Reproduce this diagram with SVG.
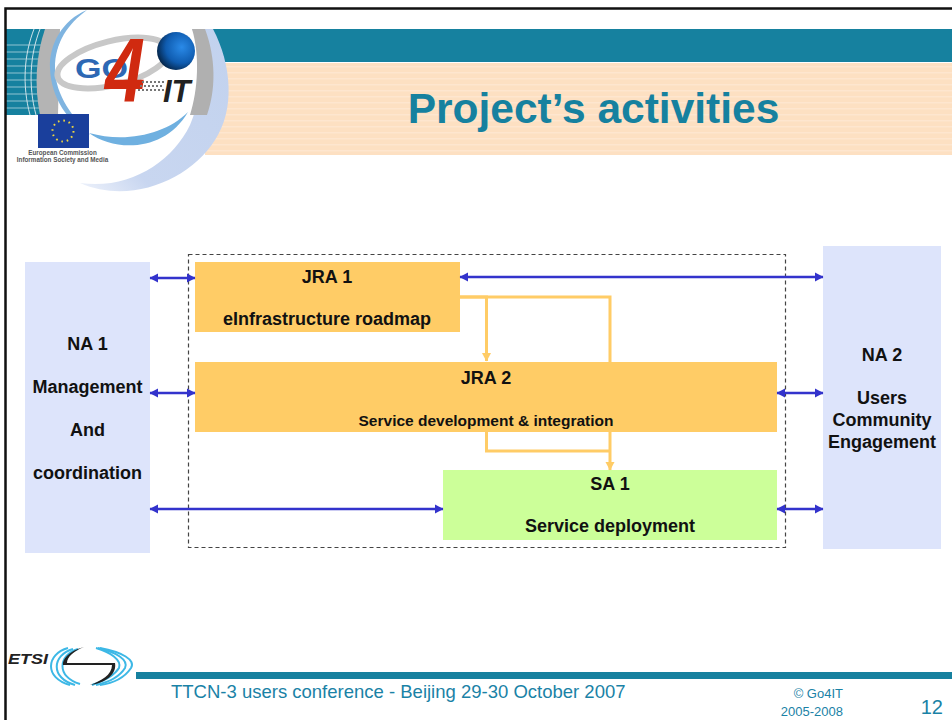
<svg xmlns="http://www.w3.org/2000/svg" width="952" height="720" viewBox="0 0 952 720">
<defs>
<radialGradient id="globe" cx="0.65" cy="0.4" r="0.7"><stop offset="0" stop-color="#2a8ae8"/><stop offset="0.6" stop-color="#0f5cb0"/><stop offset="1" stop-color="#04203f"/></radialGradient>
<linearGradient id="cres" x1="1" y1="0" x2="0" y2="1"><stop offset="0" stop-color="#c2d2ee"/><stop offset="0.75" stop-color="#c8d6f0"/><stop offset="1" stop-color="#eef2fb"/></linearGradient>
<pattern id="stripes" width="10" height="6" patternUnits="userSpaceOnUse" y="63"><rect width="10" height="6" fill="#fde0c2"/><rect y="3" width="10" height="1.500" fill="#fee6cf"/></pattern>
<marker id="blue" markerWidth="9" markerHeight="10" refX="8" refY="5" orient="auto-start-reverse" markerUnits="userSpaceOnUse"><path d="M0 0.500L8.500 5L0 9.500Z" fill="#3333cc"/></marker>
<marker id="amber" markerWidth="10" markerHeight="10" refX="8" refY="5" orient="auto" markerUnits="userSpaceOnUse"><path d="M0 0.500L8.500 5L0 9.500Z" fill="#ffcc66"/></marker>
</defs>
<style>
text{font-family:"Liberation Sans",Arial,sans-serif}
.lb{font-size:18px;font-weight:bold;fill:#111;text-anchor:middle}
.ft{fill:#1a82a6}
.fl{fill:none;stroke:#3333cc;stroke-width:2.6;marker-start:url(#blue);marker-end:url(#blue)}
.am{fill:none;stroke:#ffcc66;stroke-width:3}
</style>
<rect width="952" height="720" fill="#fff"/>
<g id="header">
<rect x="205" y="29" width="747" height="33" fill="#16819f"/>
<rect x="205" y="63" width="747" height="92" fill="url(#stripes)"/>
<rect x="6" y="29" width="42" height="86" fill="#16819f"/>
<path d="M6 45h36M6 52h36M6 59h36M6 66h36M6 73h36M6 80h36M6 87h36M6 94h36M6 101h36M6 108h36" stroke="#8fc3d2" stroke-width="1.2"/>
<path d="M34 29C24 55 22 85 30 115M40 29C30 55 28 85 36 115" fill="none" stroke="#cfe3ea" stroke-width="1"/>
<path d="M45 29L60 29L58 115L40 115C34 85 36 55 45 29Z" fill="#b4b4b4"/>
<circle cx="127" cy="73" r="74" fill="#fff"/>
<rect x="6" y="115" width="60" height="50" fill="#fff"/>
<path d="M87 10C62 20 49 45 50 68C51 98 68 122 90 135C74 118 55 96 55 68C55 42 68 24 87 10Z" fill="#7fb4e0"/>
<path d="M192 29L213 29C232 65 235 110 215 140C190 180 130 205 80 183C130 190 172 162 190 125C205 90 205 55 192 29Z" fill="url(#cres)"/>
<path d="M192 29L205 29C216 58 216 90 207 115L190 115C198 90 200 55 192 29Z" fill="#b0b0b0"/>
<path d="M89 133C115 152 165 152 188 112C165 135 125 143 89 133Z" fill="#6fb0e0"/>
<ellipse cx="113" cy="63" rx="57" ry="22" transform="rotate(-14 113 63)" fill="none" stroke="#c8c8c8" stroke-width="6"/>
<text x="75" y="78" font-size="28" font-weight="bold" fill="#2d68b4" textLength="53" lengthAdjust="spacingAndGlyphs">GO</text>
<text x="105" y="102" font-size="90" font-weight="bold" font-style="italic" fill="#d02a10" textLength="40" lengthAdjust="spacingAndGlyphs">4</text>
<path d="M142 82h22M140 86h24M138 90h26" stroke="#777" stroke-width="2" stroke-dasharray="2 2"/>
<text x="163" y="102" font-size="31" font-weight="bold" font-style="italic" fill="#222">IT</text>
<circle cx="176" cy="51" r="19" fill="url(#globe)"/>
<rect x="38" y="114" width="51" height="34" fill="#1a3f9c"/>
<circle cx="63" cy="131" r="10.500" fill="none" stroke="#f0d840" stroke-width="2" stroke-dasharray="1.6 3.900"/>
<text x="62.500" y="155" font-size="6.300" font-weight="bold" fill="#555" text-anchor="middle">European Commission</text>
<text x="62.500" y="162" font-size="6.300" font-weight="bold" fill="#555" text-anchor="middle">Information Society and Media</text>
<text x="593.500" y="123" font-size="42.500" font-weight="bold" fill="#16819f" text-anchor="middle">Project’s activities</text>
</g>
<g id="frame">
<path d="M5.500 720V8.500H952" fill="none" stroke="#111" stroke-width="2.500"/>
</g>
<rect id="boundary" x="188.500" y="254.500" width="597" height="293" fill="none" stroke="#444" stroke-width="1.200" stroke-dasharray="4 3"/>
<g id="na1"><rect x="25" y="262" width="125" height="291" fill="#dde4fb"/>
<text class="lb" x="87.500" y="350">NA 1</text><text class="lb" x="87.500" y="393">Management</text><text class="lb" x="87.500" y="436">And</text><text class="lb" x="87.500" y="479">coordination</text></g>
<g id="na2"><rect x="823" y="246" width="118" height="303" fill="#dde4fb"/>
<text class="lb" x="882" y="361">NA 2</text><text class="lb" x="882" y="404">Users</text><text class="lb" x="882" y="426">Community</text><text class="lb" x="882" y="448">Engagement</text></g>
<g id="jra1"><rect x="195" y="262" width="265" height="70" fill="#ffcc66"/>
<text class="lb" x="327" y="283">JRA 1</text><text class="lb" x="327" y="325">eInfrastructure roadmap</text></g>
<g id="jra2"><rect x="195" y="362" width="582" height="70" fill="#ffcc66"/>
<text class="lb" x="486" y="384">JRA 2</text><text x="486" y="425.500" font-size="15.500" font-weight="bold" fill="#111" text-anchor="middle">Service development &amp; integration</text></g>
<g id="sa1"><rect x="443" y="470" width="334" height="70" fill="#ccff99"/>
<text class="lb" x="610" y="490">SA 1</text><text class="lb" x="610" y="532">Service deployment</text></g>
<g id="connectors">
<path class="fl" d="M150 278H195"/>
<path class="fl" d="M460 277H823"/>
<path class="fl" d="M150 393H195"/>
<path class="fl" d="M777 393H823"/>
<path class="fl" d="M150 509H443"/>
<path class="fl" d="M777 509H823"/>
<path class="am" d="M460 297H486.500V361" marker-end="url(#amber)"/>
<path class="am" d="M460 297H610V362"/>
<path class="am" d="M486.500 432V451H610"/>
<path class="am" d="M610 432V470" marker-end="url(#amber)"/>
</g>
<g id="footer">
<rect x="136" y="672" width="816" height="7" fill="#16819f"/>
<text x="8" y="664" font-size="15.500" font-weight="bold" font-style="italic" fill="#222" textLength="40" lengthAdjust="spacingAndGlyphs">ETSI</text>
<g fill="none" stroke="#3db8e6" stroke-width="2">
<path d="M68 648C46 654 44 678 70 685"/><path d="M73 649C52 655 50 678 75 685"/><path d="M78 649C58 655 56 677 80 684"/>
<path d="M100 648C122 652 136 660 131 668C125 677 115 683 100 685"/><path d="M98 648C116 652 129 660 125 668C120 676 110 682 96 685"/><path d="M96 648C110 652 122 660 119 668C114 676 104 681 92 685"/>
</g>
<path d="M84 647C68 651 62 660 63 665H112C112 675 101 681 90 685C106 683 117 674 115 663H67C67 657 74 651 84 647Z" fill="#222"/>
<text x="171" y="698" font-size="18.500" class="ft">TTCN-3 users conference - Beijing 29-30 October 2007</text>
<text x="843" y="698" font-size="13" class="ft" text-anchor="end">© Go4IT</text>
<text x="843" y="715.500" font-size="13" class="ft" text-anchor="end">2005-2008</text>
<text x="943" y="714" font-size="20" class="ft" text-anchor="end">12</text>
</g>
</svg>
